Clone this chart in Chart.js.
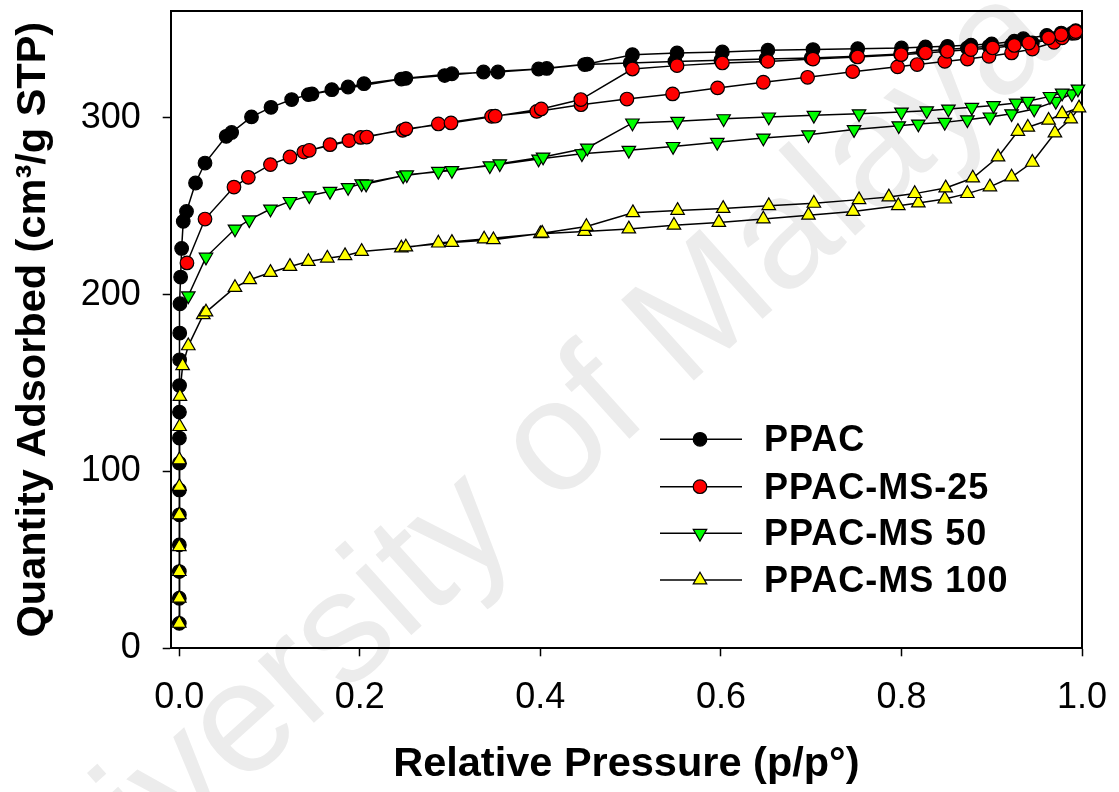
<!DOCTYPE html>
<html>
<head>
<meta charset="utf-8">
<script src="https://cdn.jsdelivr.net/npm/chart.js@4.4.1/dist/chart.umd.min.js"></script>
<style>
  body { margin: 0; background: #fff; }
  canvas { display: block; }
</style>
</head>
<body>
<canvas id="iso" width="1119" height="792"></canvas>
<script>
// series values: relative pressure (p/p°) and quantity adsorbed, adsorption then desorption
const ppacP = [0.00002, 0.00004, 0.00006, 0.00008, 0.0001, 0.00012, 0.00014, 0.00016, 0.0002, 0.0003, 0.0004, 0.0005, 0.0008,
  0.0015, 0.0026, 0.0044, 0.008, 0.018, 0.0285, 0.052, 0.058, 0.080, 0.1016, 0.1245, 0.143, 0.169, 0.187, 0.2046, 0.251,
  0.302, 0.353, 0.407, 0.449, 0.4995, 0.549, 0.600, 0.650, 0.700, 0.750, 0.799, 0.824, 0.849, 0.873, 0.897, 0.922, 0.945,
  0.969, 0.989,
  0.993, 0.977, 0.961, 0.935, 0.925, 0.900, 0.877, 0.851, 0.8266, 0.800, 0.7515, 0.702, 0.652, 0.6016, 0.5514, 0.502,
  0.452, 0.398, 0.337, 0.294, 0.246, 0.147];
const ppacQ = [14.1, 28.3, 43.4, 58.5, 75.5, 89.6, 104.7, 118.9, 133.6, 148.6, 163.2, 178.3, 194.9,
  210, 226.2, 241.5, 247.1, 263.2, 274.5, 289.6, 291.8, 300.6, 306, 310.4, 313.2, 316, 317.5, 319.4, 322.4,
  325, 326, 328, 330.2, 331.1, 332, 332.6, 333.3, 333.9, 334.9, 336.2, 337.7, 338.7, 339.6, 340.5, 341.5, 342.4,
  344.8, 347.9,
  349.4, 348, 346.7, 344.8, 343.4, 341.9, 341.2, 340.5, 340.2, 339.6, 339.2, 338.7, 338.3, 337.3, 336.8, 335.8,
  330.5, 327.7, 326, 324, 322, 313.6];

const ms25P = [0.0085, 0.0285, 0.0606, 0.0765, 0.101, 0.1226, 0.138, 0.167, 0.188, 0.201, 0.2475, 0.287, 0.346, 0.396,
  0.445, 0.4959, 0.5465, 0.5963, 0.647, 0.696, 0.746, 0.7957, 0.8174, 0.848, 0.873, 0.897, 0.922, 0.945, 0.969, 0.978,
  0.9927,
  0.993, 0.977, 0.963, 0.941, 0.925, 0.901, 0.877, 0.8508, 0.8266, 0.7997, 0.7515, 0.702, 0.652, 0.6016, 0.5514, 0.502,
  0.4448, 0.401, 0.350, 0.301, 0.251, 0.2076, 0.144];
const ms25Q = [218, 242.8, 260.9, 266.4, 273.6, 277.9, 280.7, 284.9, 287.2, 289, 293, 296.6, 300.9, 303.7,
  307.5, 310.7, 313.6, 317, 320.2, 323, 326.2, 328.9, 330.2, 332, 333.3, 334.9, 336.8, 339, 342.8, 345.3,
  348,
  348.9, 347.1, 345.3, 342.4, 341, 339.6, 338.7, 337.7, 336.8, 335.8, 334.5, 333.3, 332, 331.1, 329.6, 327.7,
  310.4, 305.1, 301, 297.2, 293.8, 289.2, 281.7];

const ms50P = [0.010, 0.0296, 0.0617, 0.0776, 0.101, 0.1226, 0.144, 0.167, 0.187, 0.202, 0.248, 0.287, 0.344, 0.398,
  0.446, 0.498, 0.547, 0.596, 0.647, 0.697, 0.7475, 0.797, 0.8187, 0.848, 0.873, 0.898, 0.922, 0.947, 0.971, 0.9887,
  0.9955,
  0.978, 0.9645, 0.940, 0.927, 0.902, 0.878, 0.852, 0.828, 0.800, 0.753, 0.703, 0.653, 0.603, 0.552, 0.502,
  0.452, 0.403, 0.355, 0.302, 0.252, 0.207];
const ms50Q = [199.4, 221.3, 237.2, 242.4, 248.5, 252.8, 256, 258.5, 260.7, 262.8, 267.3, 269.8, 273, 276.8,
  279.8, 281.7, 283.9, 286.2, 288.7, 290.5, 293.4, 295.6, 296.6, 297.5, 299, 300.6, 302.4, 305.1, 309.4, 313.7,
  316.4,
  314.1, 312.2, 309.4, 308.5, 307, 306, 305.1, 304.1, 303.4, 302.4, 301.5, 300.6, 299.6, 298.1, 297.2,
  283, 277.9, 274.1, 270.3, 267.9, 262.6];

const ms100P = [0.00002, 0.00004, 0.00006, 0.00008, 0.0001, 0.00012, 0.00014, 0.0004, 0.0007, 0.0037, 0.010, 0.0266,
  0.0296, 0.0617, 0.078, 0.101, 0.1226, 0.143, 0.164, 0.1836, 0.202, 0.246, 0.287, 0.3377, 0.400, 0.449, 0.498, 0.548,
  0.5977, 0.647, 0.697, 0.7465, 0.7965, 0.8187, 0.848, 0.873, 0.898, 0.922, 0.945, 0.970, 0.9875, 0.9967,
  0.978, 0.963, 0.940, 0.929, 0.907, 0.879, 0.849, 0.8147, 0.786, 0.753, 0.703, 0.653, 0.6025, 0.552, 0.5025,
  0.451, 0.402, 0.348, 0.302, 0.251];
const ms100Q = [14.1, 28.3, 43.4, 57.5, 75.5, 91.5, 106.6, 125.4, 142.4, 159.8, 171.1, 188.7,
  190.2, 204.1, 208.5, 212.6, 216, 218.8, 220.7, 222.1, 224.5, 226.4, 229.2, 231.5, 234.5, 235.8, 237.2, 239.3,
  240.9, 242.8, 245, 247.1, 250.4, 251.9, 254.1, 257.2, 261, 266.6, 274.9, 291.5, 299.4, 305.7,
  302.4, 298.7, 294.7, 292.4, 277.9, 266, 260.4, 257.2, 255.3, 253.8, 251.7, 250.4, 248.8, 247.7, 246.4,
  238.6, 234.8, 231.1, 229.6, 227];

const seriesNames = ["PPAC", "PPAC-MS-25", "PPAC-MS 50", "PPAC-MS 100"];
const xTicks = [0, 0.2, 0.4, 0.6, 0.8, 1.0];
const yTicks = [0, 100, 200, 300];

const FONT = "'Liberation Sans', Arial, sans-serif";

function pts(px, py) {
  return px.map((p, i) => ({ x: p, y: py[i] }));
}

// marker looks shared by plot and legend
const looks = [
  { fill: "#000000", style: "circle", r: 6.8, rot: 0 },
  { fill: "#ff0000", style: "circle", r: 6.8, rot: 0 },
  { fill: "#00ff00", style: "triangle", r: 7.8, rot: 180 },
  { fill: "#ffff00", style: "triangle", r: 7.8, rot: 0 }
];

function makeSet(i, data) {
  const lk = looks[i];
  return {
    label: seriesNames[i],
    data: data,
    showLine: true,
    borderColor: "#000",
    borderWidth: 1.5,
    pointStyle: lk.style,
    rotation: lk.rot,
    pointRadius: lk.r,
    pointBackgroundColor: lk.fill,
    pointBorderColor: "#000",
    pointBorderWidth: 1.2,
    clip: false,
    order: 4 - i
  };
}

function drawMarker(ctx, lk, x, y) {
  ctx.beginPath();
  if (lk.style === "circle") {
    ctx.arc(x, y, lk.r, 0, Math.PI * 2);
  } else {
    let rad = lk.rot * Math.PI / 180;
    for (let k = 0; k < 3; k++) {
      const vx = x + Math.sin(rad) * lk.r, vy = y - Math.cos(rad) * lk.r;
      if (k === 0) ctx.moveTo(vx, vy); else ctx.lineTo(vx, vy);
      rad += 2 * Math.PI / 3;
    }
  }
  ctx.closePath();
  ctx.fillStyle = lk.fill;
  ctx.fill();
  ctx.lineWidth = 1.2;
  ctx.strokeStyle = "#000";
  ctx.stroke();
}

const backdrop = {
  id: "backdrop",
  beforeDraw(chart) {
    const ctx = chart.ctx;
    ctx.save();
    ctx.fillStyle = "#fff";
    ctx.fillRect(0, 0, chart.width, chart.height);
    // faint repository watermark
    ctx.translate(505, 492);
    ctx.rotate(-42 * Math.PI / 180);
    ctx.font = "158px " + FONT;
    ctx.fillStyle = "#ececec";
    ctx.textAlign = "center";
    ctx.textBaseline = "middle";
    ctx.fillText("University of Malaya", 0, 0);
    ctx.restore();
  },
  beforeDatasetsDraw(chart) {
    const { ctx, chartArea: a } = chart;
    ctx.save();
    ctx.strokeStyle = "#000";
    ctx.lineWidth = 2;
    ctx.beginPath();
    ctx.moveTo(a.left, a.top);
    ctx.lineTo(a.right, a.top);
    ctx.lineTo(a.right, a.bottom);
    ctx.stroke();
    ctx.restore();
  },
  afterDraw(chart) {
    const ctx = chart.ctx;
    ctx.save();
    const rows = [439.3, 486.7, 533.3, 580];
    rows.forEach((y, i) => {
      ctx.strokeStyle = "#000";
      ctx.lineWidth = 1.5;
      ctx.beginPath();
      ctx.moveTo(660, y);
      ctx.lineTo(742, y);
      ctx.stroke();
      drawMarker(ctx, looks[i], 700, y);
      ctx.fillStyle = "#000";
      ctx.font = "bold 36px " + FONT;
      ctx.letterSpacing = "1px";
      ctx.textAlign = "left";
      ctx.textBaseline = "middle";
      ctx.fillText(seriesNames[i], 764, y + 2);
    });
    ctx.restore();
  }
};

const ctx = document.getElementById("iso").getContext("2d");
new Chart(ctx, {
  type: "scatter",
  data: {
    datasets: [
      makeSet(0, pts(ppacP, ppacQ)),
      makeSet(1, pts(ms25P, ms25Q)),
      makeSet(2, pts(ms50P, ms50Q)),
      makeSet(3, pts(ms100P, ms100Q))
    ]
  },
  options: {
    responsive: false,
    animation: false,
    devicePixelRatio: 1,
    layout: { padding: { left: 0, right: 37, top: 11, bottom: 0 } },
    plugins: {
      legend: { display: false },
      tooltip: { enabled: false }
    },
    scales: {
      x: {
        type: "linear",
        min: -0.0095,
        max: 1.0,
        afterBuildTicks: s => { s.ticks = xTicks.map(v => ({ value: v })); },
        afterFit: s => { s.height = 143.7; s.paddingLeft = 0; s.paddingRight = 0; },
        ticks: {
          callback: v => Number(v).toFixed(1),
          font: { family: FONT, size: 36 },
          color: "#000",
          padding: 20,
          maxRotation: 0,
          autoSkip: false
        },
        grid: { drawOnChartArea: false, drawTicks: true, tickLength: 8, tickColor: "#000", tickWidth: 1.5 },
        border: { color: "#000", width: 2 },
        title: {
          display: true,
          text: "Relative Pressure (p/p°)",
          font: { family: FONT, size: 41.5, weight: "bold" },
          color: "#000",
          padding: { top: 0, bottom: 3 }
        }
      },
      y: {
        type: "linear",
        min: 0,
        max: 360.5,
        afterBuildTicks: s => { s.ticks = yTicks.map(v => ({ value: v })); },
        afterFit: s => { s.width = 170.7; s.paddingTop = 0; s.paddingBottom = 0; },
        ticks: {
          font: { family: FONT, size: 36 },
          color: "#000",
          padding: 22
        },
        grid: { drawOnChartArea: false, drawTicks: true, tickLength: 8, tickColor: "#000", tickWidth: 1.5 },
        border: { color: "#000", width: 2 },
        title: {
          display: true,
          text: "Quantity Adsorbed (cm³/g STP)",
          font: { family: FONT, size: 41.5, weight: "bold" },
          color: "#000",
          padding: { top: 9, bottom: 0 }
        }
      }
    }
  },
  plugins: [backdrop]
});
</script>
</body>
</html>
